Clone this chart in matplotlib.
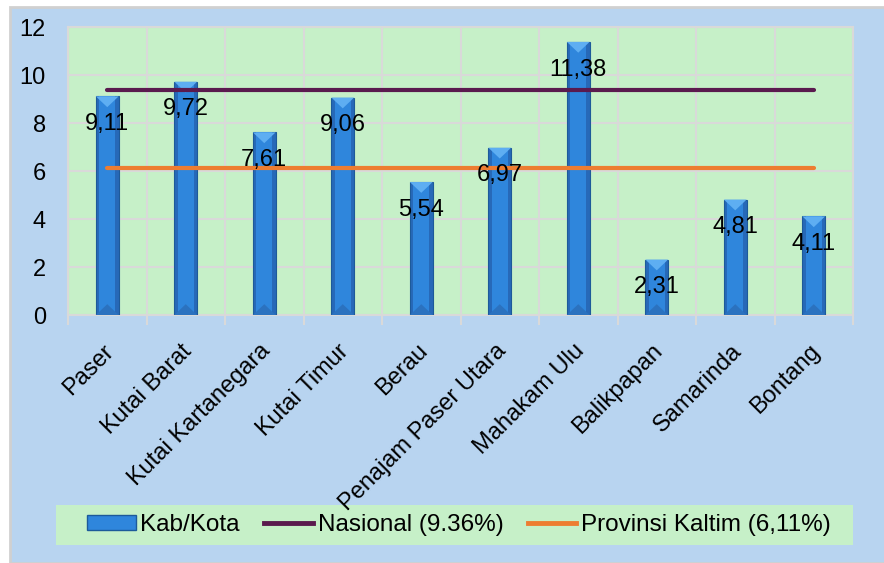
import matplotlib
matplotlib.use('Agg')
import matplotlib.pyplot as plt
import matplotlib.patches as mpatches
import matplotlib.transforms as mtransforms
from matplotlib.lines import Line2D
import numpy as np

# data
kabupaten = ['Paser', 'Kutai Barat', 'Kutai Kartanegara', 'Kutai Timur', 'Berau',
             'Penajam Paser Utara', 'Mahakam Ulu', 'Balikpapan', 'Samarinda', 'Bontang']
nilai = [9.11, 9.72, 7.61, 9.06, 5.54, 6.97, 11.38, 2.31, 4.81, 4.11]
nasional = 9.36
provinsi = 6.11
label_bar = 'Kab/Kota'
label_nas = 'Nasional (9.36%)'
label_prov = 'Provinsi Kaltim (6,11%)'

plt.rcParams['font.family'] = ['Liberation Sans', 'DejaVu Sans']

bg_blue = '#b8d4f0'
bg_green = '#c6f0c8'
grid_col = '#d9d9d9'

fig = plt.figure(figsize=(8.84, 5.63), dpi=100)
fig.patch.set_facecolor('white')

# outer chart panel
W, H = 884, 563
fig.patches.append(mpatches.Rectangle((10 / W, 0), 1, 1 - 7 / H, transform=fig.transFigure,
                                      facecolor=bg_blue, edgecolor='#d0d0d0', linewidth=2, zorder=0))
# legend panel
fig.patches.append(mpatches.Rectangle((56 / W, 1 - 545 / H), 797 / W, 40 / H, transform=fig.transFigure,
                                      facecolor=bg_green, edgecolor='none', zorder=0.5))

ax = fig.add_axes([68 / W, 1 - 315 / H, (853 - 68) / W, (315 - 27) / H])
ax.set_zorder(2)
ax.set_facecolor(bg_green)

x = np.arange(len(kabupaten))
w = 0.29

# bars with a simple bevel look
ax.bar(x, nilai, width=w, color='#2769b8', edgecolor='#1d5a9a', linewidth=0.8, zorder=3)
ax.bar(x, nilai, width=w * 0.72, color='#2f86dc', linewidth=0, zorder=3.1)
for xi, v in zip(x, nilai):
    top = mpatches.Polygon([(xi - w / 2, v), (xi + w / 2, v), (xi, v - 0.45)], closed=True,
                           facecolor='#5eaef2', edgecolor='none', zorder=3.2)
    ax.add_patch(top)
    bot = mpatches.Polygon([(xi - w / 2, 0), (xi + w / 2, 0), (xi, 0.45)], closed=True,
                           facecolor='#2b72bf', edgecolor='none', zorder=3.2)
    ax.add_patch(bot)

# reference lines
ax.plot([x[0], x[-1]], [nasional, nasional], color='#5a1a4e', linewidth=3, solid_capstyle='round', zorder=4)
ax.plot([x[0], x[-1]], [provinsi, provinsi], color='#ed7d31', linewidth=3, solid_capstyle='round', zorder=4)

# value labels
for xi, v in zip(x, nilai):
    ax.annotate(('%.2f' % v).replace('.', ','), (xi, v), xytext=(0, -20), textcoords='offset points',
                ha='center', va='center', fontsize=17, color='black', zorder=5)

ax.set_xlim(-0.5, len(kabupaten) - 0.5)
ax.set_ylim(0, 12)
ax.set_yticks(np.arange(0, 13, 2))
ax.tick_params(axis='y', length=0, labelsize=17, pad=16)
ax.yaxis.grid(True, color=grid_col, linewidth=1.5, zorder=1)

ax.set_xticks(x)
ax.set_xticklabels(kabupaten, rotation=45, ha='right', rotation_mode='anchor', fontsize=17)
ax.tick_params(axis='x', which='major', length=0, pad=18)
ax.set_xticks(np.arange(-0.5, len(kabupaten)), minor=True)
ax.tick_params(axis='x', which='minor', length=7, width=1.5, color=grid_col)
ax.xaxis.grid(True, which='minor', color=grid_col, linewidth=1.5, zorder=1)
offset = mtransforms.ScaledTranslation(-5 / 100, 0, fig.dpi_scale_trans)
for lab in ax.get_xticklabels():
    lab.set_transform(lab.get_transform() + offset)
ax.set_axisbelow(True)

for s in ax.spines.values():
    s.set_color(grid_col)
    s.set_linewidth(1.5)

handles = [mpatches.Rectangle((0, 0), 1, 1, facecolor='#2f86dc', edgecolor='#1d5a9a'),
           Line2D([0], [0], color='#5a1a4e', linewidth=3.5),
           Line2D([0], [0], color='#ed7d31', linewidth=3.5)]
leg = fig.legend(handles, [label_bar, label_nas, label_prov], loc='center',
                 bbox_to_anchor=(459 / W, 1 - 525 / H), ncol=3, frameon=False,
                 prop={'size': 17.5}, handlelength=2.0, handleheight=0.6,
                 handletextpad=0.2, columnspacing=1.0)
leg.set_zorder(3)

fig.savefig('out.png', dpi=100)
